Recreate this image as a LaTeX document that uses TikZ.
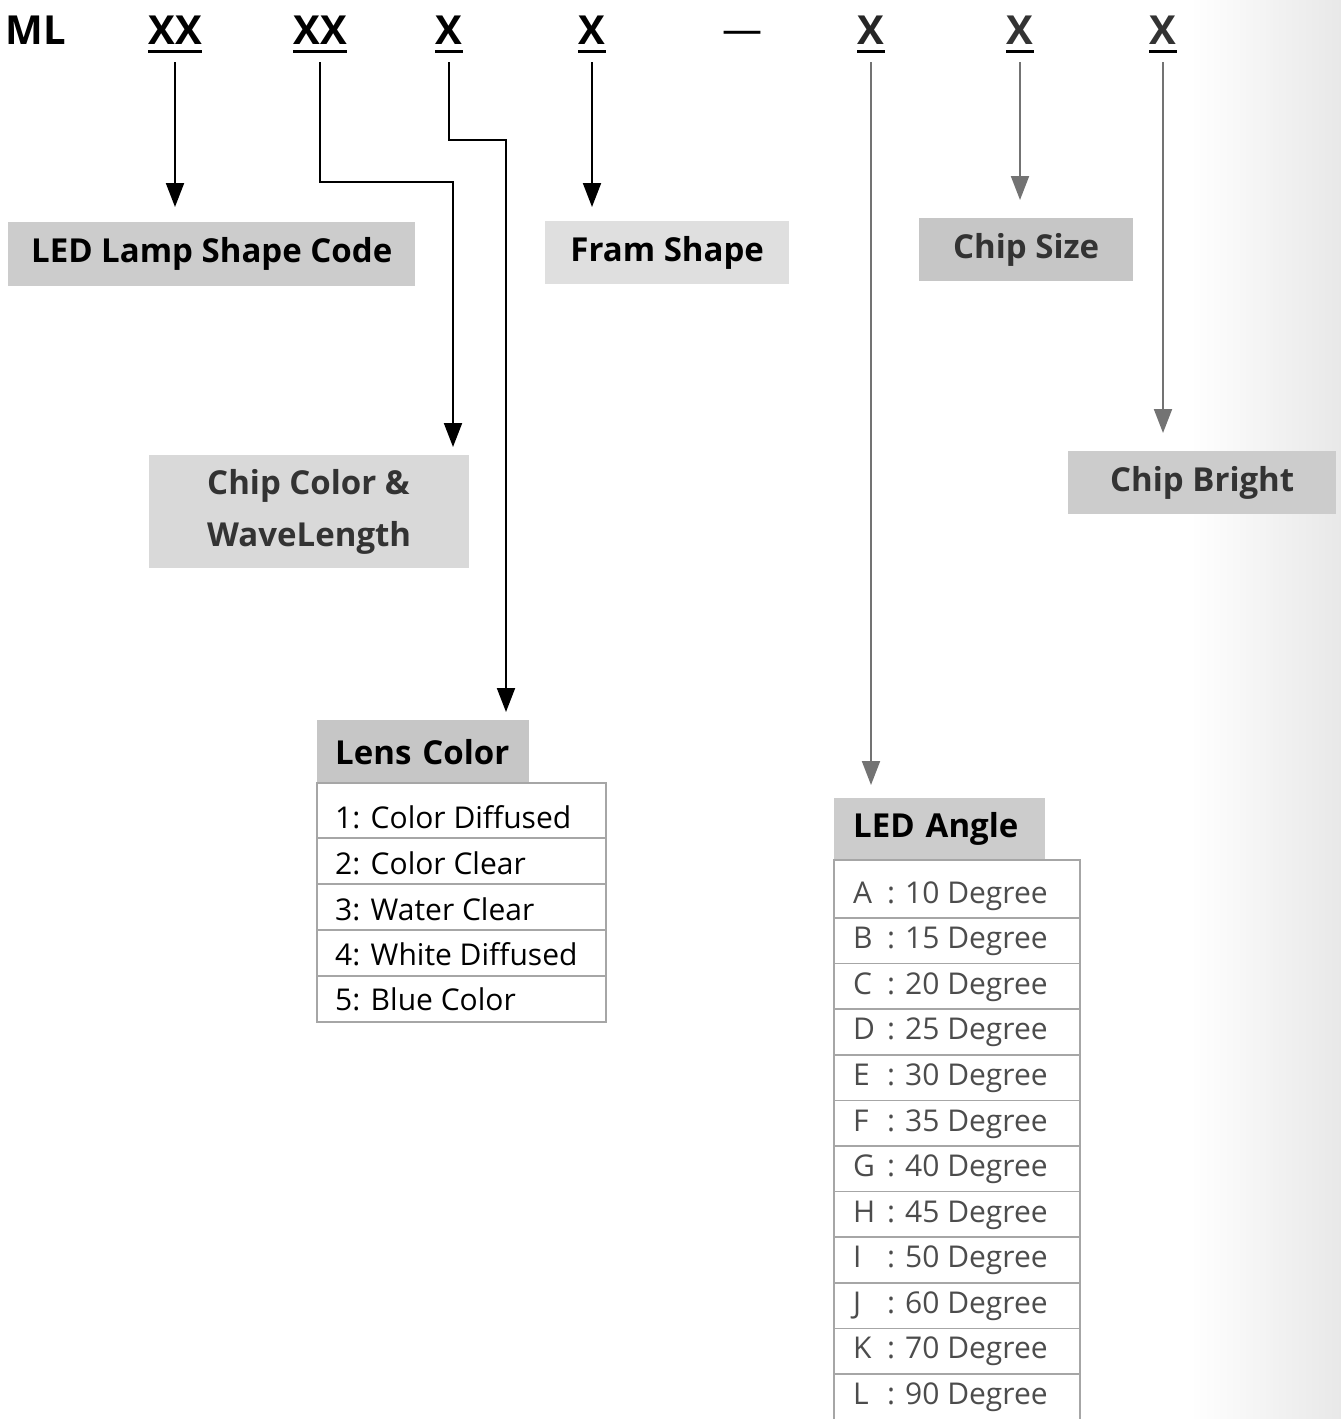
\documentclass[tikz,border=0pt]{standalone}
\usepackage{fontspec}
\setmainfont{Open Sans}
\usetikzlibrary{arrows.meta}

\begin{document}
\begin{tikzpicture}[x=1pt,y=-1pt,
  code/.style={font=\fontsize{40}{48}\selectfont\bfseries, inner sep=0pt, anchor=base},
  uline/.style={line width=3pt},
  link/.style={line width=2pt, -{Triangle[length=24pt,width=18pt]}},
  faint/.style={draw=black!55},
  tag/.style={fill=gray!40, inner sep=0pt, anchor=north west, font=\fontsize{33}{40}\selectfont\bfseries},
  cell/.style={draw=gray!70, fill=white, line width=1.5pt},
  entry/.style={anchor=west, inner sep=0pt, font=\fontsize{30}{34}\selectfont}]
\useasboundingbox (0,0) rectangle (1341,1419);
\shade[left color=white, right color=gray!18] (1190,0) rectangle (1341,1419);

\node[code] (ml) at (36,44) {ML};
\node[code] (c1) at (175,44) {XX};
\node[code] (c2) at (320,44) {XX};
\node[code] (c3) at (449,44) {X};
\node[code] (c4) at (592,44) {X};
\node[code, font=\fontsize{40}{48}\selectfont] (dash) at (742,43) {\textemdash};
\node[code, text=black!85] (c5) at (871,44) {X};
\node[code, text=black!80] (c6) at (1020,44) {X};
\node[code, text=black!80] (c7) at (1163,44) {X};
\foreach \c in {c1,c2,c3,c4,c5,c6,c7}
  \draw[uline] ([yshift=-7pt]\c.base west) -- ([yshift=-7pt]\c.base east);

\node[tag, minimum width=407pt, minimum height=64pt] (shape) at (8,222) {LED Lamp Shape Code};
\node[tag, fill=gray!25, minimum width=244pt, minimum height=63pt] (frame) at (545,221) {Fram Shape};
\node[tag, fill=gray!30, minimum width=320pt, minimum height=113pt, align=left, text=black!80,
  font=\fontsize{33}{52}\selectfont\bfseries] (wave) at (149,455) {Chip Color \&\\WaveLength};
\node[tag, fill=gray!45, minimum width=214pt, minimum height=63pt, text=black!80] (size) at (919,218) {Chip Size};
\node[tag, fill=gray!40, minimum width=268pt, minimum height=63pt, text=black!80] (bright) at (1068,451) {Chip Bright};

\node[tag, fill=gray!45, minimum height=63pt, inner xsep=18pt, text width=176pt, align=left] (lens) at (317,720) {Lens Color};
\draw[cell] (317,783) rectangle (606,838);
\foreach \t in {838,884,930,976}
  \draw[cell] (317,\t) rectangle (606,\t+46);
\foreach \i/\y/\t in {1/817/{1: Color Diffused},2/863/{2: Color Clear},3/909/{3: Water Clear},
                      4/954/{4: White Diffused},5/999/{5: Blue Color}}
  \node[entry] (lens\i) at (335,\y) {\t};

\node[tag, fill=gray!40, minimum height=62pt, inner xsep=19pt, text width=173pt, align=left] (angle) at (834,798) {LED Angle};
\draw[cell] (834,860) rectangle (1080,918);
\foreach \k in {0,...,10}
  \draw[cell] (834,918+45.6*\k) rectangle (1080,963.6+45.6*\k);
\foreach \i/\l/\n in {0/A/10,1/B/15,2/C/20,3/D/25,4/E/30,5/F/35,6/G/40,7/H/45,8/I/50,9/J/60,10/K/70,11/L/90}
  \node[entry, text=black!70] (ang\i) at (853,896+45.55*\i)
    {\makebox[34pt][l]{\l}:\hspace{10pt}\n\ Degree};

\coordinate (k2) at (453,182);
\coordinate (k3) at (506,140);
\draw[link, shorten >=15pt] ([yshift=-18pt]c1.base) -- (c1.base |- shape.north);
\draw[link, shorten >=8pt] ([yshift=-18pt]c2.base) |- (k2) -- (k2 |- wave.north);
\draw[link, shorten >=8pt] ([yshift=-18pt]c3.base) |- (k3) -- (k3 |- lens.north);
\draw[link, shorten >=14pt] ([yshift=-18pt]c4.base) -- (c4.base |- frame.north);
\draw[link, faint, shorten >=13pt] ([yshift=-18pt]c5.base) -- (c5.base |- angle.north);
\draw[link, faint, shorten >=18pt] ([yshift=-18pt]c6.base) -- (c6.base |- size.north);
\draw[link, faint, shorten >=18pt] ([yshift=-18pt]c7.base) -- (c7.base |- bright.north);
\end{tikzpicture}
\end{document}
